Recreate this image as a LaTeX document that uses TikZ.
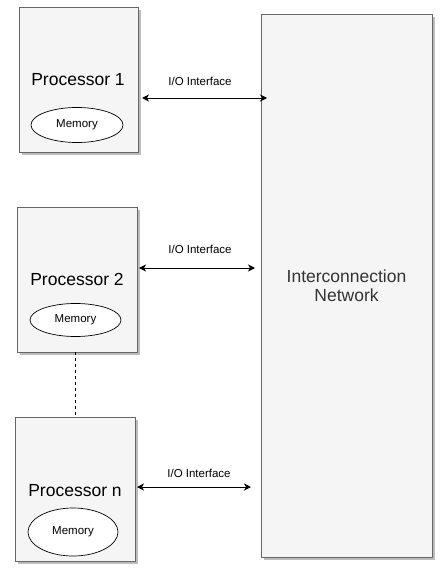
\documentclass[tikz,border=0pt]{standalone}
\usepackage{fontspec}
\setmainfont{Liberation Sans}
\usetikzlibrary{arrows.meta,shadows,shapes.geometric}
\definecolor{boxfill}{HTML}{F5F5F5}
\definecolor{boxline}{HTML}{666666}
\definecolor{shadowgray}{HTML}{BDBDBD}
\definecolor{nettext}{HTML}{333333}
\tikzset{
  pbox/.style={draw=boxline, fill=boxfill, line width=0.9pt, inner sep=0pt,
    drop shadow={shadow xshift=3pt, shadow yshift=-3pt, fill=shadowgray, opacity=1}},
  ptext/.style={font=\fontsize{17.5}{20}\selectfont, inner sep=0pt, anchor=base},
  mem/.style={draw=black, fill=white, ellipse, line width=0.7pt, inner sep=0pt,
    font=\fontsize{11.5}{13}\selectfont},
  iolabel/.style={font=\fontsize{11.5}{13}\selectfont, inner sep=0pt, anchor=base},
  io/.style={line width=0.9pt, {Stealth[length=7pt,width=7pt,inset=2pt]}-{Stealth[length=7pt,width=7pt,inset=2pt]}},
}
\begin{document}
\begin{tikzpicture}[x=1pt,y=-1pt]
\useasboundingbox (0,0) rectangle (446,577);
% Interconnection network
\node[pbox, minimum width=171pt, minimum height=543pt, text=nettext,
      font=\fontsize{17.5}{19.5}\selectfont, align=center] (net) at (346.5,285.5)
      {Interconnection\\Network};
% Processor 1
\node[pbox, minimum width=119pt, minimum height=145pt] (p1) at (78.5,79.5) {};
\node[ptext] (t1) at (78,86) {Processor 1};
\node[mem, minimum width=92pt, minimum height=35pt] (m1) at (77,125) {Memory};
% Processor 2
\node[pbox, minimum width=120pt, minimum height=145pt] (p2) at (77,279.5) {};
\node[ptext] (t2) at (77,285) {Processor 2};
\node[mem, minimum width=91pt, minimum height=33pt] (m2) at (75.5,320) {Memory};
% Processor n
\node[pbox, minimum width=120pt, minimum height=144pt] (pn) at (75,489) {};
\node[ptext] (tn) at (75,496) {Processor n};
\node[mem, minimum width=90pt, minimum height=48pt] (mn) at (73,532) {Memory};
% arrow end points
\coordinate (a1l) at (142,98);  \coordinate (a1r) at (267,98);
\coordinate (a2l) at (139,268); \coordinate (a2r) at (255,268);
\coordinate (anl) at (137,487); \coordinate (anr) at (251,487);
\draw[io] (a1l) -- (a1r);
\draw[io] (a2l) -- (a2r);
\draw[io] (anl) -- (anr);
\node[iolabel] (l1) at (200,86) {I/O Interface};
\node[iolabel] (l2) at (200,253) {I/O Interface};
\node[iolabel] (ln) at (199,477) {I/O Interface};
% dashed link
\draw[line width=0.7pt, dash pattern=on 3pt off 3pt] (pn.north |- p2.south) -- (pn.north);
\end{tikzpicture}
\end{document}
